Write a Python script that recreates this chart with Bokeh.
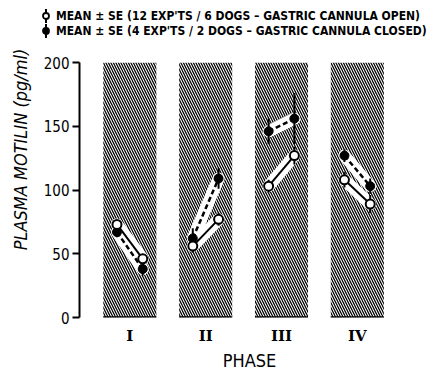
import math
from bokeh.plotting import figure
from bokeh.models import Range1d, FixedTicker, LinearAxis, Div
from bokeh.layouts import column
from bokeh.embed import file_html
from bokeh.resources import INLINE

# ---- data ----
phases = ["I", "II", "III", "IV"]
open_start = [73, 56, 103, 108]
open_end = [46, 77, 127, 89]
open_start_se = [3, 5, 5, 6]
open_end_se = [3, 5, 7, 7]
closed_start = [67, 62, 146, 127]
closed_end = [38, 109, 156, 103]
closed_start_se = [4, 8, 10, 5]
closed_end_se = [5, 8, 20, 6]
y_ticks = [0, 50, 100, 150, 200]
legend_labels = [
    "MEAN \u00b1 SE (12 EXP'TS / 6 DOGS \u2013 GASTRIC CANNULA OPEN)",
    "MEAN \u00b1 SE (4 EXP'TS / 2 DOGS \u2013 GASTRIC CANNULA CLOSED)",
]
y_label = "PLASMA MOTILIN (pg/ml)"

NARROW = "DejaVu Sans Condensed"
off = 0.17
band_w = 0.70

# ---- legend (HTML block above the plot) ----
key_fills = ["white", "black"]
rows = []
for i, (lab, fill) in enumerate(zip(legend_labels, key_fills)):
    top = 8 + i * 15
    rows.append(
        f'<svg style="position:absolute;left:41px;top:{top}px" width="10" height="16">'
        f'<line x1="5" y1="1" x2="5" y2="15" stroke="black" stroke-width="2"/>'
        f'<circle cx="5" cy="8" r="3" fill="{fill}" stroke="black" stroke-width="1.8"/></svg>'
        f'<span style="position:absolute;left:56px;top:{top}px;line-height:16px;'
        f'white-space:nowrap">{lab}</span>'
    )
legend_html = (
    f'<div style="position:relative;width:428px;height:45px;font-family:\'{NARROW}\';'
    f'font-weight:bold;font-size:12px;color:black;">' + "".join(rows) + "</div>"
)
leg = Div(text=legend_html, width=428, height=45, margin=0)

# ---- main figure ----
p = figure(width=428, height=328, x_range=Range1d(0.336, 4.82), y_range=Range1d(0, 200),
           output_backend="svg", toolbar_location=None,
           min_border_left=79, min_border_right=9, min_border_top=17, min_border_bottom=56)
p.grid.visible = False
p.outline_line_color = None

xc = [i + 1 for i in range(len(phases))]
p.vbar(x=xc, width=band_w, bottom=0, top=200, fill_color="white", line_color=None,
       hatch_pattern="\\", hatch_color="black", hatch_scale=5, hatch_weight=1.25)
p.segment(x0=[x - band_w / 2 for x in xc], y0=[0] * 4, x1=[x + band_w / 2 for x in xc], y1=[0] * 4,
          line_color="black", line_width=2.5)

# white clearings behind data
for i, x in enumerate(xc):
    for a, b in ((open_start[i], open_end[i]), (closed_start[i], closed_end[i])):
        p.line(x=[x - off, x + off], y=[a, b], line_color="white", line_width=12, line_cap="round")

x0s = [x - off for x in xc]
x1s = [x + off for x in xc]

# lines
for i in range(4):
    p.line(x=[x0s[i], x1s[i]], y=[open_start[i], open_end[i]], line_color="black", line_width=2)
    p.line(x=[x0s[i], x1s[i]], y=[closed_start[i], closed_end[i]], line_color="black",
           line_width=2.5, line_dash="5 3")

# error bars
def ebars(xs, ys, se):
    p.segment(x0=xs, y0=[y - s for y, s in zip(ys, se)], x1=xs, y1=[y + s for y, s in zip(ys, se)],
              line_color="black", line_width=2)

ebars(x0s, open_start, open_start_se)
ebars(x1s, open_end, open_end_se)
ebars(x0s, closed_start, closed_start_se)
ebars(x1s, closed_end, closed_end_se)

p.scatter(x=x0s + x1s, y=closed_start + closed_end, size=9, fill_color="black", line_color="black")
p.scatter(x=x0s + x1s, y=open_start + open_end, size=9, fill_color="white", line_color="black",
          line_width=2)

# y axis
p.yaxis.ticker = FixedTicker(ticks=y_ticks)
p.yaxis.minor_tick_line_color = None
p.yaxis.major_tick_in = 0
p.yaxis.major_tick_out = 7
p.yaxis.major_tick_line_width = 2
p.yaxis.axis_line_width = 2
p.yaxis.major_label_text_font = NARROW
p.yaxis.major_label_text_font_size = "15px"
p.yaxis.major_label_text_color = "black"
p.yaxis.major_label_standoff = 3

# y axis title on an extra axis without ticks; leading em-spaces shift it upwards
lab_axis = LinearAxis(ticker=FixedTicker(ticks=[]),
                      axis_label="\u2003\u2003\u2003\u2003\u2003" + y_label)
lab_axis.axis_line_color = None
lab_axis.major_tick_line_color = None
lab_axis.minor_tick_line_color = None
lab_axis.major_tick_out = 0
lab_axis.minor_tick_out = 0
lab_axis.major_label_text_font_size = "0px"
lab_axis.axis_label_text_font = NARROW
lab_axis.axis_label_text_font_style = "italic"
lab_axis.axis_label_text_font_size = "18px"
lab_axis.axis_label_text_color = "black"
lab_axis.axis_label_standoff = 10
p.add_layout(lab_axis, "left")

# x axis
p.xaxis.ticker = FixedTicker(ticks=xc)
p.xaxis.major_label_overrides = {x: ph for x, ph in zip(xc, phases)}
p.xaxis.axis_line_color = None
p.xaxis.major_tick_line_color = None
p.xaxis.minor_tick_line_color = None
p.xaxis.major_tick_out = 0
p.xaxis.minor_tick_out = 0
p.xaxis.major_label_text_font = "DejaVu Serif"
p.xaxis.major_label_text_font_style = "bold"
p.xaxis.major_label_text_font_size = "15px"
p.xaxis.major_label_text_color = "black"
p.xaxis.major_label_standoff = 9
p.xaxis.axis_label = "PHASE"
p.xaxis.axis_label_text_font = NARROW
p.xaxis.axis_label_text_font_style = "normal"
p.xaxis.axis_label_text_font_size = "18px"
p.xaxis.axis_label_text_color = "black"
p.xaxis.axis_label_standoff = 2

layout = column(leg, p, spacing=0)
open("out.html", "w").write(file_html(layout, INLINE))
